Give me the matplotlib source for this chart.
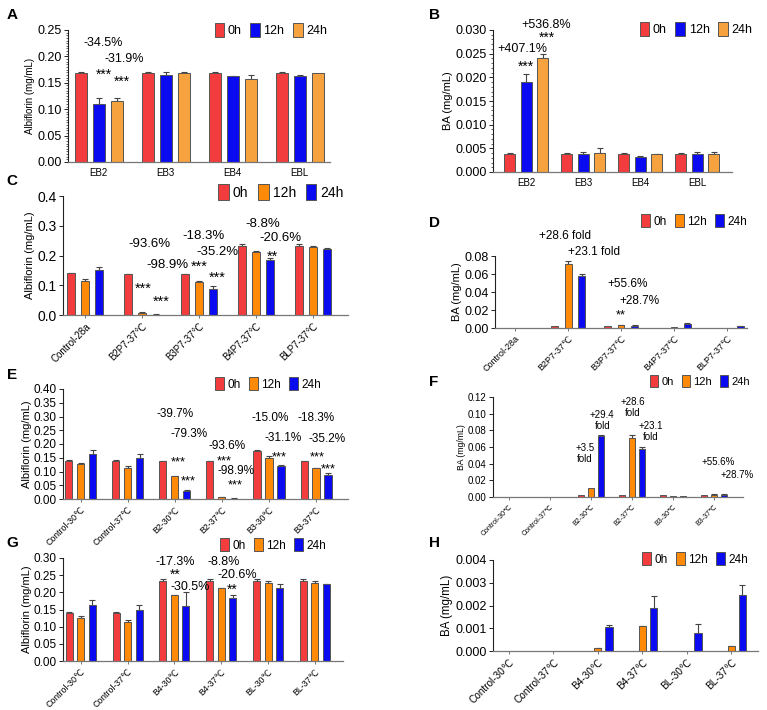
import numpy as np
import matplotlib
matplotlib.use("Agg")
import matplotlib.pyplot as plt
from matplotlib.patches import Patch
from matplotlib.ticker import MultipleLocator

plt.rcParams['font.family'] = ['Liberation Sans', 'DejaVu Sans']

W, H = 767, 710
RED = '#f23c3e'
BLUE = '#0b0bf2'
LORANGE = '#f6a23f'
ORANGE = '#ff8a08'
EDGE = '#555555'

# ---------------- data ----------------
# A  Albiflorin, 0h / 12h / 24h
a_groups = ['EB2', 'EB3', 'EB4', 'EBL']
a_0h = [0.168, 0.168, 0.168, 0.168]
a_0h_err = [0.003, 0.003, 0.003, 0.003]
a_12h = [0.110, 0.165, 0.162, 0.162]
a_12h_err = [0.012, 0.005, 0.001, 0.003]
a_24h = [0.115, 0.168, 0.158, 0.168]
a_24h_err = [0.007, 0.003, 0.007, 0.0]

# B  BA
b_groups = ['EB2', 'EB3', 'EB4', 'EBL']
b_0h = [0.0038, 0.0038, 0.0038, 0.0038]
b_0h_err = [0.0003, 0.0003, 0.0003, 0.0003]
b_12h = [0.0190, 0.0039, 0.0031, 0.0039]
b_12h_err = [0.0017, 0.0004, 0.0002, 0.0004]
b_24h = [0.0240, 0.0040, 0.0038, 0.0037]
b_24h_err = [0.0010, 0.0011, 0.0001, 0.0006]

# C  Albiflorin
c_groups = ['Control-28a', 'B2P7-37℃', 'B3P7-37℃', 'B4P7-37℃', 'BLP7-37℃']
c_0h = [0.140, 0.137, 0.137, 0.232, 0.232]
c_0h_err = [0.002, 0.002, 0.002, 0.007, 0.007]
c_12h = [0.114, 0.008, 0.112, 0.212, 0.227]
c_12h_err = [0.006, 0.001, 0.001, 0.002, 0.005]
c_24h = [0.150, 0.0015, 0.089, 0.184, 0.223]
c_24h_err = [0.012, 0.0005, 0.007, 0.006, 0.001]

# D  BA
d_groups = c_groups
d_0h = [0.0, 0.002, 0.002, 0.0, 0.0]
d_0h_err = [0, 0, 0, 0, 0]
d_12h = [0.0, 0.071, 0.003, 0.001, 0.0003]
d_12h_err = [0, 0.003, 0.0003, 0, 0]
d_24h = [0.0, 0.058, 0.0025, 0.004, 0.002]
d_24h_err = [0, 0.002, 0.0003, 0.0015, 0.0003]

# E  Albiflorin
e_groups = ['Control-30℃', 'Control-37℃', 'B2-30℃', 'B2-37℃', 'B3-30℃', 'B3-37℃']
e_0h = [0.140, 0.140, 0.137, 0.137, 0.173, 0.137]
e_0h_err = [0.002, 0.002, 0.002, 0.002, 0.004, 0.002]
e_12h = [0.126, 0.114, 0.083, 0.008, 0.148, 0.112]
e_12h_err = [0.006, 0.006, 0.001, 0.001, 0.008, 0.001]
e_24h = [0.162, 0.150, 0.029, 0.0015, 0.120, 0.089]
e_24h_err = [0.017, 0.012, 0.002, 0.0005, 0.005, 0.007]

# F  BA
f_groups = e_groups
f_0h = [0.0, 0.0, 0.002, 0.002, 0.002, 0.002]
f_0h_err = [0, 0, 0, 0, 0, 0]
f_12h = [0.0, 0.0, 0.011, 0.071, 0.001, 0.003]
f_12h_err = [0, 0, 0, 0.003, 0, 0.0003]
f_24h = [0.0, 0.0, 0.073, 0.058, 0.001, 0.003]
f_24h_err = [0, 0, 0.001, 0.002, 0, 0.0003]

# G  Albiflorin
g_groups = ['Control-30℃', 'Control-37℃', 'B4-30℃', 'B4-37℃', 'BL-30℃', 'BL-37℃']
g_0h = [0.140, 0.140, 0.232, 0.232, 0.232, 0.232]
g_0h_err = [0.002, 0.002, 0.008, 0.008, 0.008, 0.008]
g_12h = [0.126, 0.114, 0.191, 0.212, 0.227, 0.227]
g_12h_err = [0.006, 0.006, 0.002, 0.002, 0.006, 0.005]
g_24h = [0.162, 0.150, 0.160, 0.184, 0.212, 0.223]
g_24h_err = [0.017, 0.012, 0.042, 0.007, 0.012, 0.001]

# H  BA
h_groups = g_groups
h_0h = [0, 0, 0, 0, 0, 0]
h_0h_err = [0, 0, 0, 0, 0, 0]
h_12h = [0.0, 0.0, 0.00013, 0.0011, 0.0, 0.0002]
h_12h_err = [0, 0, 0.00002, 0.00002, 0, 0.00001]
h_24h = [0.0, 0.0, 0.00107, 0.00187, 0.0008, 0.00247]
h_24h_err = [0, 0, 0.00007, 0.00055, 0.0004, 0.00045]

# annotations: (group, offset, y, text)
a_notes = [(0, 0.07, 0.225, '-34.5%'), (0, 0.38, 0.195, '-31.9%'),
           (0, 0.07, 0.165, '***'), (0, 0.35, 0.152, '***')]
b_notes = [(0, -0.07, 0.0259, '+407.1%'), (0, 0.0, 0.0223, '***'),
           (0, 0.36, 0.0311, '+536.8%'), (0, 0.36, 0.0284, '***')]
c_notes = [(1, 0.12, 0.239, '-93.6%'), (1, 0.02, 0.088, '***'),
           (1, 0.44, 0.168, '-98.9%'), (1, 0.33, 0.044, '***'),
           (2, 0.07, 0.265, '-18.3%'), (2, 0.32, 0.212, '-35.2%'),
           (2, 0.0, 0.162, '***'), (2, 0.32, 0.125, '***'),
           (3, 0.12, 0.306, '-8.8%'), (3, 0.42, 0.259, '-20.6%'),
           (3, 0.28, 0.196, '**')]
d_notes = [(1, -0.06, 0.102, '+28.6 fold'), (1, 0.49, 0.084, '+23.1 fold'),
           (2, 0.12, 0.049, '+55.6%'), (2, 0.34, 0.030, '+28.7%'),
           (2, 0.0, 0.014, '**')]
e_notes = [(2, 0.0, 0.309, '-39.7%'), (2, 0.30, 0.236, '-79.3%'),
           (2, 0.07, 0.132, '***'), (2, 0.28, 0.063, '***'),
           (3, 0.10, 0.192, '-93.6%'), (3, 0.04, 0.138, '***'),
           (3, 0.30, 0.100, '-98.9%'), (3, 0.28, 0.049, '***'),
           (4, 0.02, 0.295, '-15.0%'), (4, 0.30, 0.222, '-31.1%'),
           (4, 0.23, 0.150, '***'),
           (5, 0.0, 0.295, '-18.3%'), (5, 0.23, 0.218, '-35.2%'),
           (5, 0.02, 0.150, '***'), (5, 0.26, 0.107, '***')]
f_notes = [(2, -0.15, 0.052, '+3.5\nfold'), (2, 0.27, 0.092, '+29.4\nfold'),
           (3, 0.02, 0.107, '+28.6\nfold'), (3, 0.46, 0.079, '+23.1\nfold'),
           (5, 0.10, 0.042, '+55.6%'), (5, 0.56, 0.026, '+28.7%')]
g_notes = [(2, 0.02, 0.287, '-17.3%'), (2, 0.02, 0.250, '**'),
           (2, 0.34, 0.216, '-30.5%'),
           (3, 0.06, 0.287, '-8.8%'), (3, 0.34, 0.251, '-20.6%'),
           (3, 0.23, 0.207, '**')]


def box(l, t, r, b):
    return [l / W, 1 - b / H, (r - l) / W, (b - t) / H]


def draw(fig, rect, groups, series, errs, colors, pitch, width, xlim, ymax, step,
         dec, ylabel, fs_lab, fs_y, fs_x, rot, notes, fs_note, leg_xy, fs_leg,
         letter, letter_xy, minor=None):
    ax = fig.add_axes(box(*rect))
    x = np.arange(len(groups))
    for k, (vals, err, c) in enumerate(zip(series, errs, colors)):
        xs = x + (k - 1) * pitch
        vals = np.asarray(vals, float)
        err = np.asarray(err, float)
        ax.bar(xs, vals, width, color=c, edgecolor=EDGE, linewidth=0.7, zorder=2)
        m = err > 0
        if m.any():
            ax.errorbar(xs[m], vals[m], yerr=[np.zeros(m.sum()), err[m]], fmt='none',
                        ecolor='#444444', elinewidth=0.8, capsize=2, capthick=0.8,
                        zorder=1)
    ax.set_xlim(*xlim)
    ax.set_ylim(0, ymax)
    ticks = np.arange(0, ymax + step / 2, step)
    ax.set_yticks(ticks)
    ax.set_yticklabels([f'{t:.{dec}f}' for t in ticks], fontsize=fs_y)
    if minor:
        ax.yaxis.set_minor_locator(MultipleLocator(minor))
    ax.set_xticks(x)
    if rot:
        ax.set_xticklabels(groups, fontsize=fs_x, rotation=45, ha='right',
                           rotation_mode='anchor')
    else:
        ax.set_xticklabels(groups, fontsize=fs_x)
    ax.set_ylabel(ylabel, fontsize=fs_lab, labelpad=1.5)
    for s in ['top', 'right']:
        ax.spines[s].set_visible(False)
    ax.spines['left'].set_color('#222222')
    ax.spines['bottom'].set_color('#777777')
    ax.spines['left'].set_linewidth(0.8)
    ax.spines['bottom'].set_linewidth(0.9)
    ax.tick_params(axis='y', which='major', length=3, width=0.7, pad=1.5, color='#222222')
    ax.tick_params(axis='y', which='minor', length=1.5, width=0.5, color='#222222')
    ax.tick_params(axis='x', length=2.5 if rot else 0, width=0.7, color='#777777',
                   pad=2 if rot else 4)

    for g, off, y, s in notes:
        fs = fs_note * 1.1 if set(s) == {'*'} else fs_note
        ax.text(g + off, y, s, ha='center', va='center', fontsize=fs,
                linespacing=1.1, zorder=3)

    handles = [Patch(facecolor=c, edgecolor=EDGE, linewidth=0.7) for c in colors]
    ax.legend(handles, ['0h', '12h', '24h'], loc='center', ncol=3, frameon=False,
              bbox_to_anchor=(leg_xy[0] / W, 1 - leg_xy[1] / H),
              bbox_transform=fig.transFigure, fontsize=fs_leg, handlelength=0.75,
              handleheight=1.35, handletextpad=0.3, columnspacing=0.7, borderpad=0)
    fig.text(letter_xy[0] / W, 1 - letter_xy[1] / H, letter, fontsize=11,
             fontweight='bold', ha='center', va='center')
    return ax


fig = plt.figure(figsize=(W / 100, H / 100), dpi=100)

draw(fig, (68, 30, 330, 162), a_groups, [a_0h, a_12h, a_24h],
     [a_0h_err, a_12h_err, a_24h_err], [RED, BLUE, LORANGE], 0.27, 0.18,
     (-0.46, 3.45), 0.25, 0.05, 2, 'Albiflorin (mg/mL)', 7, 9, 7, False,
     a_notes, 9, (271, 30), 9, 'A', (12, 15), minor=0.005)

draw(fig, (493, 30, 732, 172), b_groups, [b_0h, b_12h, b_24h],
     [b_0h_err, b_12h_err, b_24h_err], [RED, BLUE, LORANGE], 0.29, 0.19,
     (-0.58, 3.61), 0.030, 0.005, 3, 'BA (mg/mL)', 8, 9, 7, False,
     b_notes, 9, (696, 29), 9, 'B', (435, 15), minor=0.001)

draw(fig, (63, 196, 348, 315), c_groups, [c_0h, c_12h, c_24h],
     [c_0h_err, c_12h_err, c_24h_err], [RED, ORANGE, BLUE], 0.245, 0.14,
     (-0.39, 4.61), 0.4, 0.1, 1, 'Albiflorin (mg/mL)', 8, 10, 7, True,
     c_notes, 9.5, (281, 192), 10, 'C', (12, 181))

draw(fig, (495, 256, 747, 328), d_groups, [d_0h, d_12h, d_24h],
     [d_0h_err, d_12h_err, d_24h_err], [RED, ORANGE, BLUE], 0.255, 0.13,
     (-0.38, 4.38), 0.08, 0.02, 2, 'BA (mg/mL)', 8, 9, 6.5, True,
     d_notes, 8.5, (694, 221), 8.5, 'D', (435, 223))

draw(fig, (63, 389, 348, 499), e_groups, [e_0h, e_12h, e_24h],
     [e_0h_err, e_12h_err, e_24h_err], [RED, ORANGE, BLUE], 0.255, 0.15,
     (-0.38, 5.68), 0.40, 0.05, 2, 'Albiflorin (mg/mL)', 8, 8.5, 6.3, True,
     e_notes, 8.5, (268, 384), 8.5, 'E', (12, 375))

draw(fig, (493, 397, 743, 497), f_groups, [f_0h, f_12h, f_24h],
     [f_0h_err, f_12h_err, f_24h_err], [RED, ORANGE, BLUE], 0.245, 0.15,
     (-0.39, 5.7), 0.12, 0.02, 2, 'BA (mg/mL)', 6.2, 7, 5, True,
     f_notes, 7, (700, 381), 8, 'F', (434, 382))

draw(fig, (63, 558, 343, 661), g_groups, [g_0h, g_12h, g_24h],
     [g_0h_err, g_12h_err, g_24h_err], [RED, ORANGE, BLUE], 0.245, 0.15,
     (-0.38, 5.6), 0.30, 0.05, 2, 'Albiflorin (mg/mL)', 8, 8.5, 6.3, True,
     g_notes, 9, (273, 545), 8.5, 'G', (12, 543))

draw(fig, (493, 560, 758, 651), h_groups, [h_0h, h_12h, h_24h],
     [h_0h_err, h_12h_err, h_24h_err], [RED, ORANGE, BLUE], 0.25, 0.16,
     (-0.36, 5.6), 0.004, 0.001, 3, 'BA (mg/mL)', 8.3, 9, 7.2, True,
     [], 9, (695, 559), 8.5, 'H', (435, 543))

fig.savefig('out.png', dpi=100)
